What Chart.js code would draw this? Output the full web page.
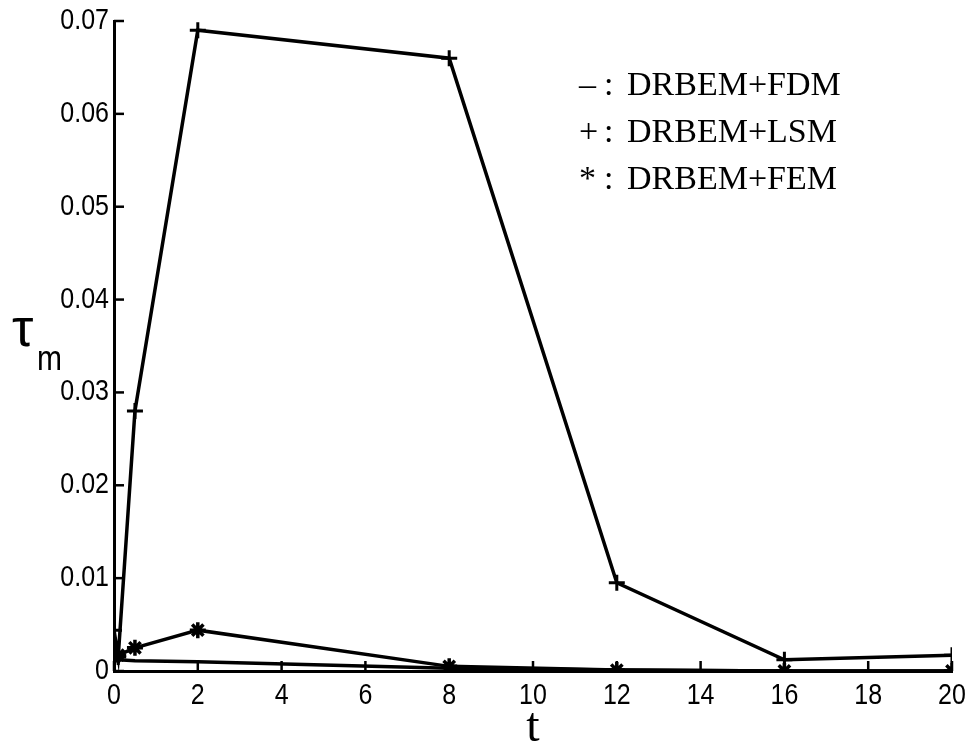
<!DOCTYPE html>
<html>
<head>
<meta charset="utf-8">
<script src="https://cdn.jsdelivr.net/npm/chart.js@4/dist/chart.umd.min.js"></script>
<style>
  html, body { margin: 0; padding: 0; background: #fff; }
  #wrap { width: 970px; height: 745px; }
</style>
</head>
<body>
<div id="wrap"><canvas id="chart" width="970" height="745"></canvas></div>
<script>
// time levels shared by all three methods
const times = [0, 0.1, 0.5, 2, 8, 12, 16, 20]

// tau_m for each coupling scheme
const fdmValues = [0.0012, 0.0012, 0.0011, 0.0010, 0.0003, 0.0001, 0.0, 0.0]
const lsmValues = [0.0044, 0.0015, 0.028, 0.069, 0.066, 0.0095, 0.0012, 0.0017]
const femValues = [0.0015, 0.0017, 0.0025, 0.0044, 0.0005, 0.0001, 0.0, 0.0]

const xTickValues = [0, 2, 4, 6, 8, 10, 12, 14, 16, 18, 20]
const yTickValues = [0, 0.01, 0.02, 0.03, 0.04, 0.05, 0.06, 0.07]
const xTickLabels = ["0", "2", "4", "6", "8", "10", "12", "14", "16", "18", "20"]
const yTickLabels = ["0", "0.01", "0.02", "0.03", "0.04", "0.05", "0.06", "0.07"]

const legendSymbols = ["\u2013", "+", "*"]
const legendNames = ["DRBEM+FDM", "DRBEM+LSM", "DRBEM+FEM"]

const INK = "#000"
const SANS = '"Liberation Sans", Arial, sans-serif'
const SERIF = '"Liberation Serif", "DejaVu Serif", serif'
const TICK_LEN = 10
// the reference uses a tall, narrow helvetica; stretch vertically to match
const STRETCH = 1.16

const toPoints = (vals) => vals.map((v, i) => ({ x: times[i], y: v }))

// draw text stretched vertically around its anchor point
function tallText(ctx, str, x, y, align, baseline) {
  ctx.save()
  ctx.translate(x, y)
  ctx.scale(1, STRETCH)
  ctx.textAlign = align
  ctx.textBaseline = baseline
  ctx.fillText(str, 0, 0)
  ctx.restore()
}

// inward tick dashes and the tick labels, MATLAB style
const axisDecor = {
  id: "axisDecor",
  afterDraw(chart) {
    const { ctx, chartArea, scales } = chart
    ctx.save()
    ctx.strokeStyle = INK
    ctx.fillStyle = INK
    ctx.lineWidth = 2.5
    ctx.font = "25px " + SANS
    xTickValues.forEach((v, i) => {
      const px = scales.x.getPixelForValue(v)
      ctx.beginPath()
      ctx.moveTo(px, chartArea.bottom)
      ctx.lineTo(px, chartArea.bottom - TICK_LEN)
      ctx.stroke()
      tallText(ctx, xTickLabels[i], px, 704, "center", "alphabetic")
    })
    yTickValues.forEach((v, i) => {
      const py = scales.y.getPixelForValue(v)
      ctx.beginPath()
      ctx.moveTo(chartArea.left, py)
      ctx.lineTo(chartArea.left + TICK_LEN, py)
      ctx.stroke()
      tallText(ctx, yTickLabels[i], chartArea.left - 5, py, "right", "middle")
    })
    ctx.restore()
  }
}

// text-only legend plus the axis titles
const labels = {
  id: "labels",
  afterDraw(chart) {
    const { ctx, chartArea } = chart
    ctx.save()
    ctx.fillStyle = INK
    ctx.textBaseline = "alphabetic"
    ctx.textAlign = "left"
    ctx.font = "34px " + SERIF
    legendNames.forEach((name, i) => {
      const y = 95 + i * 47
      ctx.fillText(legendSymbols[i], 579, y)
      ctx.fillText(":", 604, y)
      ctx.fillText(name, 627, y)
    })

    // x title
    ctx.textAlign = "center"
    ctx.font = "48px " + SERIF
    ctx.fillText("t", (chartArea.left + chartArea.right) / 2, 741)

    // y title: tau with subscript m
    ctx.textAlign = "left"
    ctx.font = "54px " + SANS
    ctx.fillText("\u03C4", 12, 346)
    ctx.font = "30px " + SANS
    tallText(ctx, "m", 37, 370, "left", "alphabetic")
    ctx.restore()
  }
}

new Chart(document.getElementById("chart").getContext("2d"), {
  type: "line",
  plugins: [axisDecor, labels],
  data: {
    datasets: [
      {
        label: "FDM",
        data: toPoints(fdmValues),
        borderColor: INK,
        borderWidth: 3.5,
        pointRadius: 0,
        tension: 0
      },
      {
        label: "LSM",
        data: toPoints(lsmValues),
        borderColor: INK,
        borderWidth: 3.5,
        pointStyle: "cross",
        pointRadius: 8,
        pointBorderWidth: 3,
        pointBorderColor: INK,
        tension: 0
      },
      {
        label: "FEM",
        data: toPoints(femValues),
        borderColor: INK,
        borderWidth: 3.5,
        pointStyle: "star",
        pointRadius: 8,
        pointBorderWidth: 3.5,
        pointBorderColor: INK,
        tension: 0
      }
    ]
  },
  options: {
    responsive: false,
    animation: false,
    layout: { padding: { top: 21, right: 18, left: 0, bottom: 0 } },
    plugins: { legend: { display: false }, tooltip: { enabled: false } },
    scales: {
      x: {
        type: "linear",
        min: 0,
        max: 20,
        grid: { display: false },
        border: { display: true, color: INK, width: 3 },
        afterBuildTicks: (axis) => { axis.ticks = xTickValues.map((v) => ({ value: v })) },
        afterFit: (axis) => { axis.height = 745 - 671 },
        ticks: { display: false }
      },
      y: {
        min: 0,
        max: 0.07,
        grid: { display: false },
        border: { display: true, color: INK, width: 3 },
        afterBuildTicks: (axis) => { axis.ticks = yTickValues.map((v) => ({ value: v })) },
        afterFit: (axis) => { axis.width = 114 },
        ticks: { display: false }
      }
    }
  }
})
</script>
</body>
</html>
